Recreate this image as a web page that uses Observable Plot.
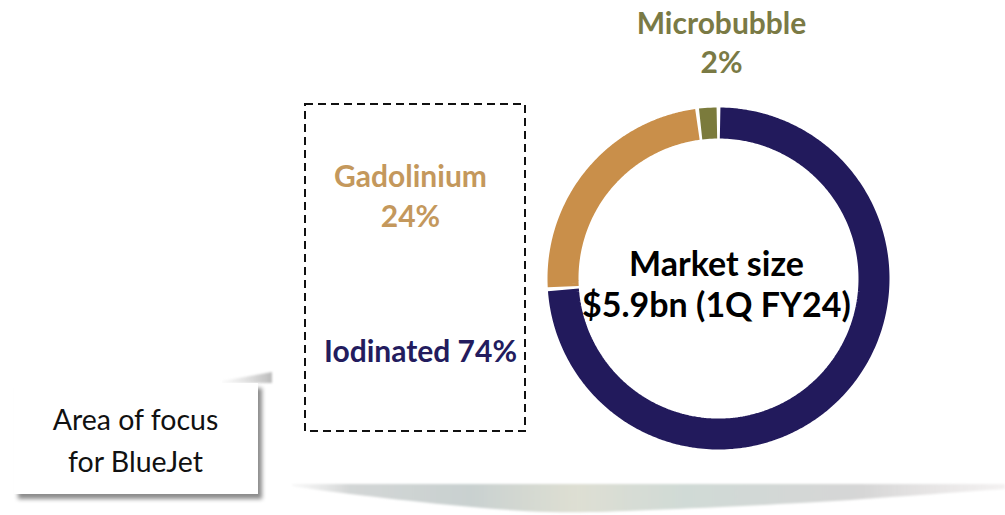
<!DOCTYPE html>
<html>
<head>
<meta charset="utf-8">
<script src="https://cdn.jsdelivr.net/npm/d3@7"></script>
<script src="https://cdn.jsdelivr.net/npm/@observablehq/plot@0.6"></script>
<style>
  html, body { margin: 0; padding: 0; background: #ffffff; }
  #chart { width: 1005px; height: 515px; overflow: hidden; }
</style>
</head>
<body>
<div id="chart"></div>
<script>
// ---- data ----
const categories = ["Iodinated", "Gadolinium", "Microbubble"];
const shares = [74, 24, 2];
const sliceColors = ["#221a5c", "#c98f4a", "#7b7b3c"];
const labelColors = ["#231c5e", "#c4985c", "#7a7a45"];
const centerTitle = ["Market size", "$5.9bn (1Q FY24)"];
const calloutText = ["Area of focus", "for BlueJet"];

// ---- layout (pixels) ----
const W = 1005, H = 515;
const cx = 718, cy = 278, rOuter = 171, rInner = 140;
const rMid = (rOuter + rInner) / 2, ring = rOuter - rInner;
const padAngle = 0.6 * Math.PI / 180;

// slice arcs from d3.pie (0 at 12 o'clock, clockwise)
const pie = d3.pie().sort(null).value(d => d.share);
const arcs = pie(categories.map((c, i) => ({category: c, share: shares[i], color: sliceColors[i]})));
const arcPts = [];
for (const a of arcs) {
  const a0 = a.startAngle + padAngle, a1 = a.endAngle - padAngle;
  const n = Math.max(2, Math.ceil((a1 - a0) / (Math.PI / 180)));
  for (let k = 0; k <= n; k++) {
    const t = a0 + (a1 - a0) * k / n;
    arcPts.push({category: a.data.category, color: a.data.color, x: cx + rMid * Math.sin(t), y: cy - rMid * Math.cos(t)});
  }
}

const font = "Lato, 'Open Sans', sans-serif";
const labelPos = {
  Gadolinium: [{x: 410, y: 177}, {x: 410, y: 217}],
  Microbubble: [{x: 721, y: 24}, {x: 721, y: 63}],
  Iodinated: [{x: 420, y: 352}]
};
const labels = [];
categories.forEach((c, i) => {
  const pos = labelPos[c];
  const lines = pos.length === 1 ? [`${c} ${shares[i]}%`] : [c, `${shares[i]}%`];
  lines.forEach((t, j) => labels.push({text: t, color: labelColors[i], ...pos[j]}));
});
const centerLines = centerTitle.map((t, j) => ({text: t, x: cx - 2, y: cy - 13 + j * 41}));
const calloutLines = calloutText.map((t, j) => ({text: t, x: 135, y: 420 + j * 42}));

// decorative shapes (layout only)
const swooshTop = 484;
const swooshBottom = [[292, 486], [350, 494], [450, 505], [550, 512], [650, 510], [800, 503], [920, 495], [1005, 489]];
const swoosh = swooshBottom.map(([x, y]) => ({x, y1: swooshTop, y2: y}));
const wedge = [{x: 222, y1: 381, y2: 383}, {x: 272, y1: 372, y2: 383}];

const plot = Plot.plot({
  width: W, height: H, margin: 0,
  x: {domain: [0, W], range: [0, W], axis: null},
  y: {domain: [0, H], range: [0, H], axis: null},
  marks: [
    Plot.areaY(swoosh, {x: "x", y1: "y1", y2: "y2", fill: "url(#swoosh)", curve: "natural"}),
    Plot.areaY(wedge, {x: "x", y1: "y1", y2: "y2", fill: "url(#wedge)"}),
    // callout box
    Plot.rect([{x1: 14, x2: 258, y1: 383, y2: 494}], {x1: "x1", x2: "x2", y1: "y1", y2: "y2", fill: "white"}),
    Plot.text(calloutLines, {x: "x", y: "y", text: "text", fill: "#111", fontSize: 28.5, fontFamily: font, fontWeight: 400}),
    // dashed focus box
    Plot.rect([{x1: 305, x2: 525, y1: 104, y2: 431}], {x1: "x1", x2: "x2", y1: "y1", y2: "y2", fill: "none", stroke: "#111", strokeWidth: 2, strokeDasharray: "8,5"}),
    // donut slices
    Plot.line(arcPts, {x: "x", y: "y", z: "category", stroke: "color", strokeWidth: ring, strokeLinecap: "butt", strokeLinejoin: "miter", curve: "linear"}),
    // labels
    Plot.text(labels, {x: "x", y: "y", text: "text", fill: "color", fontSize: 30, fontWeight: 700, fontFamily: font}),
    Plot.text(centerLines, {x: "x", y: "y", text: "text", fill: "#000", fontSize: 34, fontWeight: 700, fontFamily: font})
  ]
});

// gradients + shadow decorations
const svg = d3.select(plot);
const defs = svg.insert("defs", ":first-child");
const g = defs.append("linearGradient").attr("id", "swoosh").attr("x1", "0").attr("x2", "1").attr("y1", "0").attr("y2", "0");
[["0%", "#e6e6e6", 0.3], ["8%", "#d3d6d6", 1], ["25%", "#c9d1d0", 1], ["40%", "#dedfd3", 1], ["55%", "#d0dad6", 1], ["80%", "#d6d6d6", 1], ["100%", "#e8e4e4", 0.5]]
  .forEach(([o, c, op]) => g.append("stop").attr("offset", o).attr("stop-color", c).attr("stop-opacity", op));
const w = defs.append("linearGradient").attr("id", "wedge").attr("x1", "0").attr("x2", "1").attr("y1", "0").attr("y2", "0");
w.append("stop").attr("offset", "0%").attr("stop-color", "#ccc").attr("stop-opacity", 0.1);
w.append("stop").attr("offset", "100%").attr("stop-color", "#aaa").attr("stop-opacity", 0.8);
const bl = defs.append("filter").attr("id", "soft");
bl.append("feGaussianBlur").attr("stdDeviation", 1.2);
const f = defs.append("filter").attr("id", "shadow").attr("x", "-10%").attr("y", "-10%").attr("width", "130%").attr("height", "130%");
f.append("feDropShadow").attr("dx", 4).attr("dy", 5).attr("stdDeviation", 2.2).attr("flood-color", "#000").attr("flood-opacity", 0.45);
svg.selectAll("g[fill=white]").attr("filter", "url(#shadow)");
svg.selectAll("g[fill='url(#wedge)'], g[fill='url(#swoosh)']").attr("filter", "url(#soft)");

document.getElementById("chart").appendChild(plot);
</script>
</body>
</html>
